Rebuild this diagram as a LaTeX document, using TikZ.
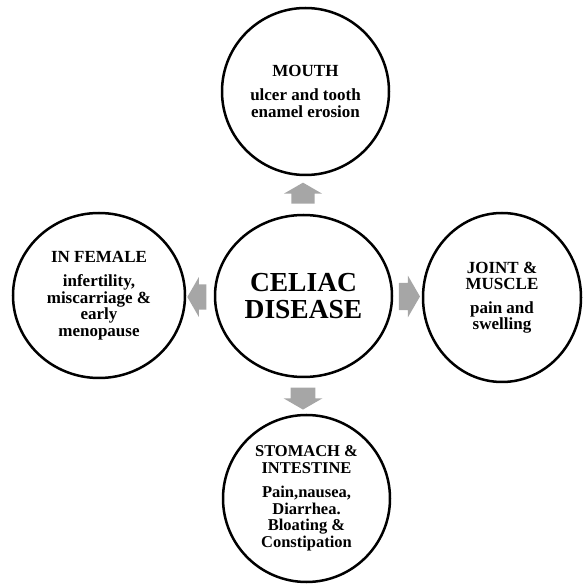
\documentclass[tikz,border=0pt]{standalone}
\usepackage{fontspec}
\setmainfont{Liberation Serif}
\usetikzlibrary{shapes.geometric,shapes.arrows}
\begin{document}
\begin{tikzpicture}[x=1pt,y=1pt,
  bubble/.style={draw=black,line width=2.5pt,ellipse,inner sep=0pt,align=center,
    font=\bfseries\fontsize{17}{16.5}\selectfont},
  blockarrow/.style={single arrow,fill=black!35,draw=none,inner xsep=0pt,
    single arrow tip angle=120,single arrow head indent=0pt}]
\useasboundingbox (0,0) rectangle (582,584);
% circles
\node[bubble,minimum width=167pt,minimum height=167pt,
  font=\bfseries\fontsize{17}{17}\selectfont] (mouth) at (305.5,492.5)
  {MOUTH\\[7pt]ulcer and tooth\\enamel erosion};
\node[bubble,minimum width=177pt,minimum height=162pt,
  font=\bfseries\fontsize{27.5}{27}\selectfont] (celiac) at (303.5,288)
  {CELIAC\\DISEASE};
\node[bubble,minimum width=172pt,minimum height=165pt] (female) at (99,288.5)
  {IN FEMALE\\[8pt]infertility,\\miscarriage \&\\early\\menopause};
\node[bubble,minimum width=158pt,minimum height=169pt,
  font=\bfseries\fontsize{17}{16}\selectfont] (joint) at (502,286.5)
  {JOINT \&\\MUSCLE\\[8pt]pain and\\swelling};
\node[bubble,minimum width=167pt,minimum height=167pt,
  font=\bfseries\fontsize{16.5}{16.5}\selectfont] (stomach) at (306.5,85.5)
  {STOMACH \&\\INTESTINE\\[8pt]Pain,nausea,\\Diarrhea.\\Bloating \&\\Constipation};
% block arrows
\node[blockarrow,rotate=90,minimum height=21pt,minimum width=38pt,inner ysep=11pt] (aup) at (303,387.5) {};
\node[blockarrow,rotate=-90,minimum height=22pt,minimum width=39pt,inner ysep=12pt] (adown) at (303,189) {};
\node[blockarrow,rotate=180,minimum height=19pt,minimum width=33pt,inner ysep=12.5pt] (aleft) at (200.5,287) {};
\node[blockarrow,minimum height=21pt,minimum width=35pt,inner ysep=13.5pt] (aright) at (405.5,287.5) {};
\end{tikzpicture}
\end{document}
